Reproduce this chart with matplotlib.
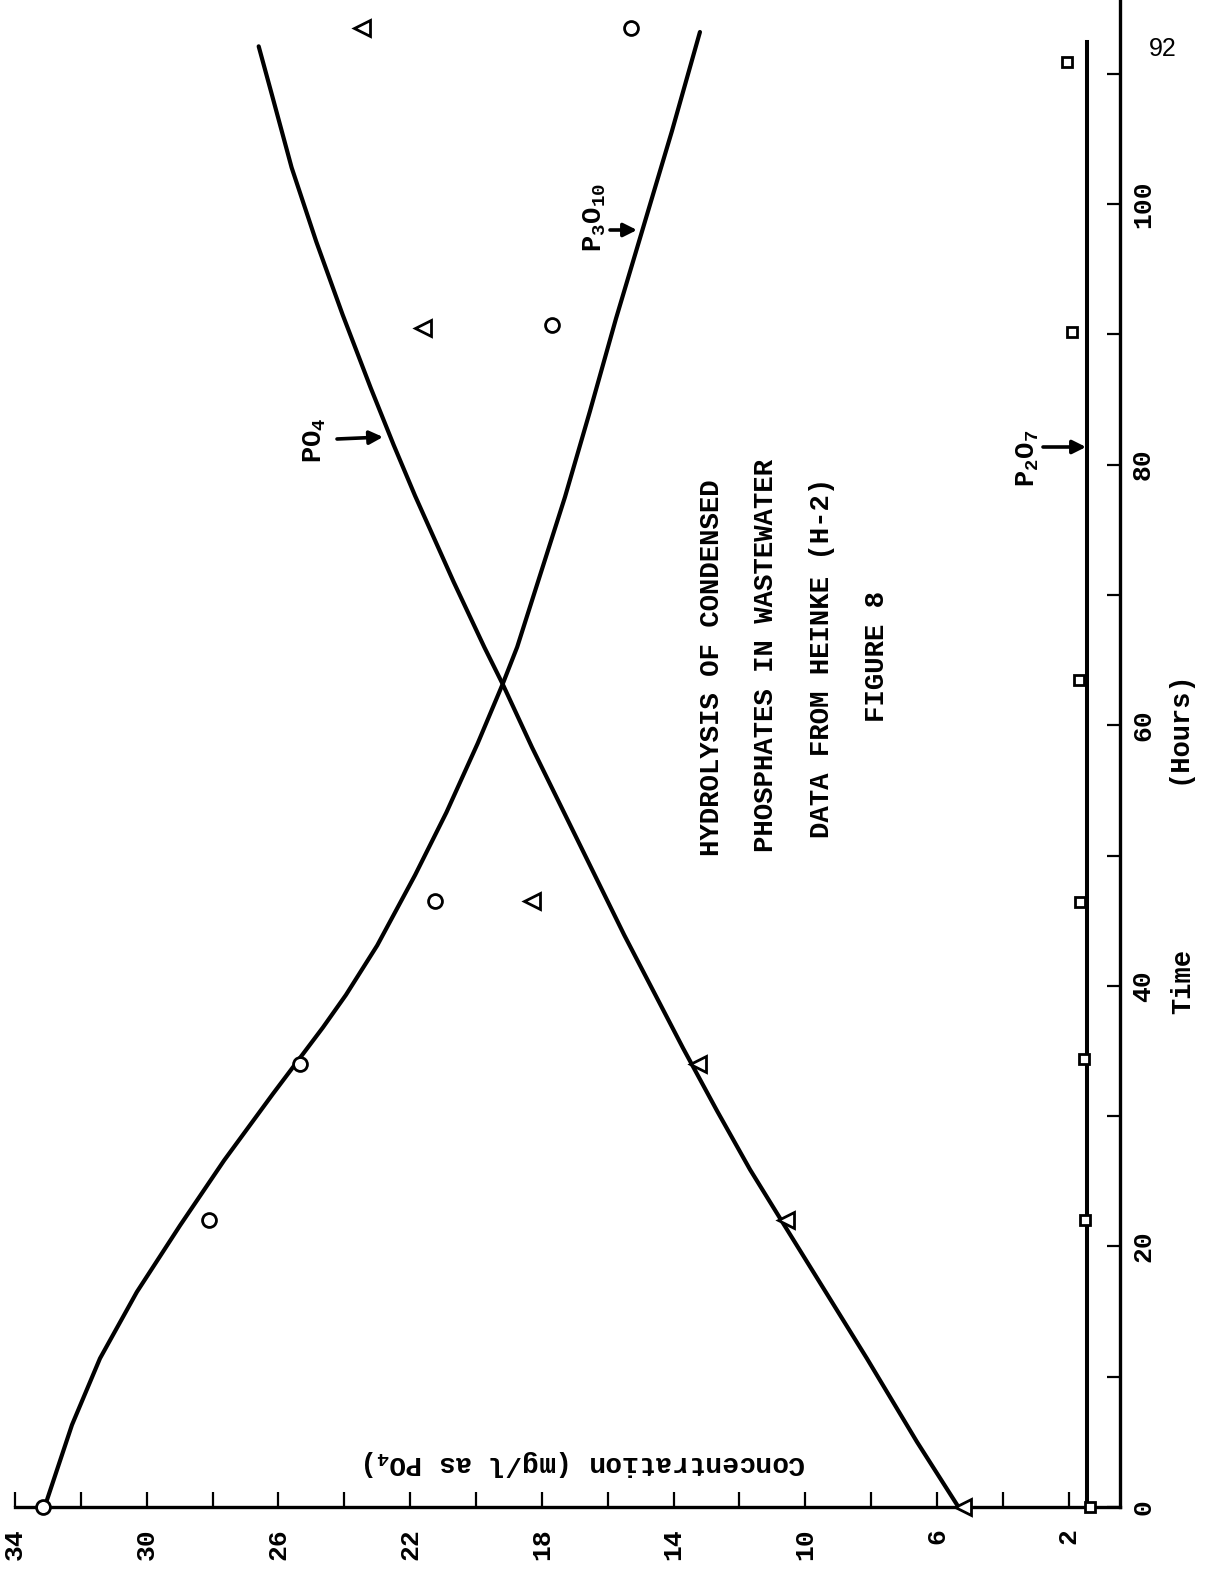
import matplotlib
matplotlib.use("Agg")
import matplotlib.pyplot as plt

plt.rcParams['font.family'] = ['Liberation Mono', 'DejaVu Sans']
plt.rcParams['mathtext.fontset'] = 'custom'
plt.rcParams['mathtext.rm'] = 'Liberation Mono:bold'
plt.rcParams['mathtext.it'] = 'Liberation Mono:bold'
plt.rcParams['mathtext.bf'] = 'Liberation Mono:bold'

# ---- measured concentrations (mg/l as PO4) against time (hours) ----
p3o10_obs_time = [0, 22, 34, 46.5, 90.7, 113.5]
p3o10_obs_conc = [33.15, 28.1, 25.35, 21.25, 17.7, 15.3]

po4_obs_time = [0, 22, 34, 46.5, 90.5, 113.5]
po4_obs_conc = [5.2, 10.6, 13.25, 18.3, 21.6, 23.45]

p2o7_obs_time = [0, 22, 34.4, 46.4, 63.5, 90.2, 110.9]
p2o7_obs_conc = [1.35, 1.5, 1.55, 1.65, 1.7, 1.9, 2.05]

# ---- fitted curves ----
p3o10_fit_time = [0, 6.3, 11.4, 16.5, 21.6, 26.6, 31.7, 36.8, 39.3, 43.1, 48.5,
                  53.3, 58.6, 63.1, 66.0, 77.5, 84.1, 91.2, 98.4, 105.6, 113.2]
p3o10_fit_conc = [33.1, 32.27, 31.42, 30.30, 28.99, 27.65, 26.17, 24.65, 23.95, 23.0, 21.85,
                  20.9, 19.95, 19.2, 18.75, 17.3, 16.54, 15.75, 14.90, 14.05, 13.20]

po4_fit_time = [0, 5.0, 11.4, 17.6, 21.8, 25.9, 30.4, 35.2, 43.9, 51.1, 58.3,
                63.1, 66.0, 71.0, 77.6, 81.5, 85.9, 91.5, 97.1, 102.8, 108.4, 112.1]
po4_fit_conc = [5.35, 6.61, 8.13, 9.65, 10.68, 11.68, 12.68, 13.71, 15.5, 16.9, 18.3,
                19.18, 19.75, 20.68, 21.85, 22.5, 23.2, 24.05, 24.85, 25.6, 26.2, 26.6]

p2o7_fit_time = [0, 112.4]
p2o7_fit_conc = [1.45, 1.45]

conc_major = [2, 6, 10, 14, 18, 22, 26, 30, 34]
conc_minor = [4, 8, 12, 16, 20, 24, 28, 32]
time_major = [0, 20, 40, 60, 80, 100]
time_minor = [10, 30, 50, 70, 90, 110]

# ---- page geometry (pixels) ----
W, H = 1209, 1585
X34 = 15.0        # pixel column of 34 mg/l
PXC = 32.93       # pixels per mg/l
Y0 = 1507.0       # pixel row of t = 0
PXH = 13.03       # pixels per hour
XAXIS_COL = 1120  # pixel column of the time axis line

fig = plt.figure(figsize=(W / 100, H / 100), dpi=100)
fig.patch.set_facecolor('white')
ax = fig.add_axes([0, 0, 1, 1])
ax.set_facecolor('white')
ax.set_xlim(34 + X34 / PXC, 34 - (W - X34) / PXC)
ax.set_ylim(-(H - Y0) / PXH, Y0 / PXH)


def fx(px):
    return px / W


def fy(py):
    return 1 - py / H


# curves
line_kw = dict(color='black', lw=3.0, solid_capstyle='round', solid_joinstyle='round',
               zorder=3, clip_on=False)
ax.plot(p3o10_fit_conc, p3o10_fit_time, **line_kw)
ax.plot(po4_fit_conc, po4_fit_time, **line_kw)
ax.plot(p2o7_fit_conc, p2o7_fit_time, color='black', lw=2.9, zorder=3, clip_on=False)

# observations
mk = dict(linestyle='none', markerfacecolor='white', markeredgecolor='black',
          zorder=5, clip_on=False)
ax.plot(p3o10_obs_conc, p3o10_obs_time, marker='o', markersize=10, markeredgewidth=2.0, **mk)
ax.plot(po4_obs_conc, po4_obs_time, marker='<', markersize=11.5, markeredgewidth=2.0, **mk)
ax.plot(p2o7_obs_conc, p2o7_obs_time, marker='s', markersize=6.5, markeredgewidth=2.0, **mk)

# axes frame
for side in ('top', 'left'):
    ax.spines[side].set_visible(False)
ax.spines['right'].set_position(('axes', XAXIS_COL / W))
ax.spines['bottom'].set_position(('data', 0))
c_at_axis = 34 - (XAXIS_COL - X34) / PXC
ax.spines['bottom'].set_bounds(c_at_axis, 34)
ax.spines['right'].set_bounds(0, Y0 / PXH)
for side in ('right', 'bottom'):
    ax.spines[side].set_linewidth(2.4)
    ax.spines[side].set_zorder(4)

ax.yaxis.tick_right()
ax.set_xticks(conc_major)
ax.set_xticklabels([str(v) for v in conc_major], fontweight='bold')
ax.set_xticks(conc_minor, minor=True)
ax.set_yticks(time_major)
ax.set_yticklabels(['0', '20', '40', '60', '80', '100'], fontweight='bold')
ax.set_yticks(time_minor, minor=True)
ax.tick_params(axis='x', which='both', direction='in', length=11, width=1.6,
               pad=15, labelsize=19, labelrotation=90)
ax.tick_params(axis='y', which='both', direction='in', length=9.5, width=1.6,
               pad=8, labelsize=19, labelrotation=90)
for lab in ax.get_yticklabels():
    lab.set_verticalalignment('center')

# axis titles
txt = dict(fontsize=19.5, fontweight='bold', color='black')
fig.text(fx(585), fy(1463), 'Concentration (mg/l as PO$_4$)', rotation=180,
         ha='center', va='center', fontsize=20, fontweight='bold')
fig.text(fx(1183), fy(982), 'Time', rotation=90, ha='center', va='center', **txt)
fig.text(fx(1179), fy(727), '(Hours)', rotation=90, ha='center', va='center', **txt)

# title block
title_lines = ['HYDROLYSIS OF CONDENSED', 'PHOSPHATES IN WASTEWATER',
               'DATA FROM HEINKE (H-2)', 'FIGURE 8']
title_pos = [(712, 668), (766, 655), (822, 658), (877, 657)]
for s, (px, py) in zip(title_lines, title_pos):
    fig.text(fx(px), fy(py), s, rotation=90, ha='center', va='center',
             fontsize=19.7, fontweight='bold')

# series labels with arrows
fig.text(fx(315), fy(440), 'PO$_4$', rotation=90, ha='center', va='center', **txt)
fig.text(fx(595), fy(218), 'P$_3$O$_{10}$', rotation=90, ha='center', va='center', **txt)
fig.text(fx(1028), fy(458), 'P$_2$O$_7$', rotation=90, ha='center', va='center', **txt)

arrow_kw = dict(arrowstyle='-|>', lw=2.6, color='black', mutation_scale=20,
                shrinkA=0, shrinkB=0)
for (x0, y0), (x1, y1) in [((337, 439), (383, 437)),
                           ((610, 230), (637, 230)),
                           ((1043, 447), (1086, 447))]:
    ax.annotate('', xy=(fx(x1), fy(y1)), xytext=(fx(x0), fy(y0)),
                xycoords='figure fraction', textcoords='figure fraction',
                arrowprops=arrow_kw)

# page number
fig.text(fx(1163), fy(49), '92', ha='center', va='center', fontsize=18,
         family=['Liberation Sans', 'DejaVu Sans'])

fig.savefig('out.png', dpi=100, facecolor='white')
